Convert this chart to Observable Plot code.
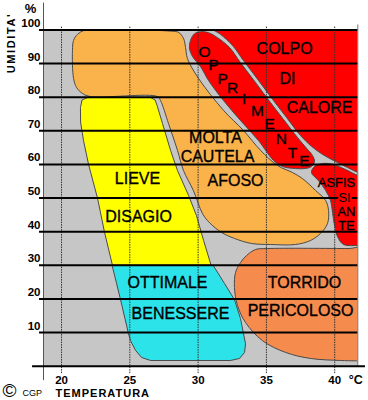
<!DOCTYPE html>
<html>
<head>
<meta charset="utf-8">
<script src="https://cdn.jsdelivr.net/npm/d3@7"></script>
<script src="https://cdn.jsdelivr.net/npm/@observablehq/plot@0.6"></script>
<style>
  body { margin: 0; background: #ffffff; }
  #chart svg { display: block; }
</style>
</head>
<body>
<div id="chart"></div>
<script>
// ---- tick values (temperature °C, relative humidity %) ----
const humidityTicks = [10, 20, 30, 40, 50, 60, 70, 80, 90, 100];
const temperatureTicks = [20, 25, 30, 35, 40];

// ---- zone outlines, [temperature °C, humidity %] ----
const zoneAfoso = [[21.17,98.7],[21.76,100],[26.0,100],[28.13,99.6],[28.57,99.3],[28.93,97.5],[29.08,94.8],[29.22,91.5],[30.03,85.6],[31.86,76.1],[33.32,70.1],[34.57,64.2],[35.81,59.7],[36.91,57.6],[37.64,55.8],[38.59,52.3],[39.33,49.3],[39.55,46.3],[39.47,42.4],[38.96,39.5],[38.23,37.4],[37.13,36.2],[35.3,36.2],[33.91,36.5],[32.66,38.0],[31.71,39.8],[30.83,42.7],[30.32,45.4],[29.66,52.2],[28.93,58.2],[28.49,64.2],[27.83,72.2],[27.25,79.0],[27.03,80.2],[22.12,80.2],[21.54,81.1],[21.1,82.9],[20.88,85.6],[20.8,93.9],[20.88,96.9]];
const zoneDisagio = [[21.39,77.0],[21.5,79.2],[21.9,79.9],[26.52,79.9],[26.85,79.2],[27.0,77.5],[27.39,72.2],[27.98,64.2],[28.49,58.2],[29.3,50.8],[29.88,44.8],[30.4,37.4],[30.95,30],[23.73,30],[23.15,39.8],[22.64,49.9],[21.98,60.0],[21.61,67.1],[21.4,72.5]];
const zoneBenessere = [[23.73,30],[31.1,30],[31.93,24.6],[32.66,19.8],[33.1,14.2],[33.32,9.7],[33.47,6.7],[33.4,4.1],[33.03,2.3],[32.37,1.7],[26.52,1.7],[25.86,2.6],[25.42,4.7],[25.05,7.6],[24.9,9.7],[24.32,19.8],[24.03,24.6]];
const zoneTorrido = [[42.2,35.0],[41.0,35.0],[35.1,35.0],[34.2,34.7],[33.54,32.9],[33.1,30.8],[32.74,27.9],[32.66,23.4],[32.88,18.1],[33.47,13.0],[34.71,7.6],[36.4,4.1],[38.23,2.3],[40.42,1.7],[41.5,1.6],[42.2,1.6]];
const zoneColpo = [[31.0,100.6],[42.2,100.6],[42.2,57.5],[41.74,57.6],[40.94,59.1],[39.91,61.2],[39.11,63.0],[38.3,65.4],[37.5,68.6],[36.47,74.0],[35.52,79.0],[34.42,85.0],[33.32,90.9],[32.52,95.4],[31.64,98.7]];
const zoneOppressione = [[29.44,96.9],[29.37,94.5],[29.59,92.1],[30.18,89.1],[30.76,85.0],[31.86,79.0],[33.1,73.1],[34.42,67.1],[35.52,61.2],[36.18,59.4],[37.13,58.8],[37.86,58.8],[38.3,59.4],[38.52,60.9],[38.37,62.7],[37.94,64.8],[37.28,68.0],[36.25,73.4],[35.3,78.4],[34.2,84.4],[33.1,90.3],[32.3,94.8],[31.42,97.7],[30.76,99.2],[30.18,99.5],[29.74,98.9]];
const zoneAsfissia = [[38.3,57.6],[38.52,59.4],[39.11,60.3],[39.91,60.0],[40.8,58.5],[41.74,56.7],[42.2,56.5],[42.2,35.8],[41.67,35.9],[40.64,36.2],[40.2,38.6],[39.99,41.8],[39.84,45.7],[39.69,49.3],[39.33,52.3],[38.81,55.2]];

// ---- zone labels, anchored at [temperature, humidity] ----
const zoneLabels = [
  {text: "COLPO", t: 36.33, h: 94.5},
  {text: "DI", t: 36.54, h: 85.6},
  {text: "CALORE", t: 38.89, h: 76.7},
  {text: "MOLTA", t: 31.27, h: 67.8},
  {text: "CAUTELA", t: 31.42, h: 62.2},
  {text: "AFOSO", t: 32.74, h: 55.2},
  {text: "LIEVE", t: 25.56, h: 55.8},
  {text: "DISAGIO", t: 25.64, h: 44.5},
  {text: "OTTIMALE", t: 27.76, h: 24.9},
  {text: "BENESSERE", t: 28.71, h: 15.7},
  {text: "TORRIDO", t: 37.79, h: 24.9},
  {text: "PERICOLOSO", t: 37.5, h: 16.6}
];
const asfissiaLabels = [
  {text: "ASFIS", t: 40.13, h: 54.4},
  {text: "AN", t: 40.86, h: 46.0},
  {text: "TE", t: 40.86, h: 41.8}
];
const haloLabels = [{text: "SI", t: 40.72, h: 50.2}];
const oppLetters = [
  {text: "O", t: 30.47, h: 93.3},
  {text: "P", t: 31.13, h: 89.7},
  {text: "P", t: 31.79, h: 85.3},
  {text: "R", t: 32.52, h: 82.6},
  {text: "I", t: 33.37, h: 79.6},
  {text: "M", t: 34.35, h: 75.9},
  {text: "E", t: 35.23, h: 72.1},
  {text: "N", t: 36.1, h: 67.6},
  {text: "T", t: 36.91, h: 63.3},
  {text: "E", t: 37.79, h: 61.0}
];

const GRAY = "#c6c6c6";
const OUT = "#4a4a4a";
const zone = (data, fill, curve) => Plot.line(data, {
  x: d => d[0], y: d => d[1], fill, stroke: OUT, strokeWidth: 1,
  curve, clip: true
});
const label = (data, size, extra = {}) => Plot.text(data, {
  x: "t", y: "h", text: "text", fontSize: size, fill: "#000",
  stroke: "#000", strokeWidth: 0.35, ...extra
});

const chart = Plot.plot({
  width: 368,
  height: 400,
  marginLeft: 43,
  marginRight: 10.7,
  marginTop: 29.5,
  marginBottom: 34.3,
  x: {domain: [18.68, 41.69], axis: null},
  y: {domain: [0, 100], axis: null},
  style: {fontFamily: "'Liberation Sans', Arial, sans-serif", background: "#ffffff", overflow: "visible"},
  marks: [
    Plot.frame({fill: GRAY, stroke: null}),
    zone(zoneAfoso, "#fab24b", "catmull-rom-closed"),
    zone(zoneDisagio, "#ffff00", "linear-closed"),
    zone(zoneBenessere, "#2de3ea", "linear-closed"),
    zone(zoneTorrido, "#f68b4e", "catmull-rom-closed"),
    zone(zoneColpo, "#ff0000", "catmull-rom-closed"),
    zone(zoneOppressione, "#ff0000", "catmull-rom-closed"),
    zone(zoneAsfissia, "#ff0000", "catmull-rom-closed"),
    // vertical dotted grid
    Plot.ruleX(temperatureTicks, {x: d => d, y1: -2.2, y2: 101, stroke: "#333", strokeWidth: 1, strokeDasharray: "1.5,1"}),
    // left axis & right edge
    Plot.ruleX([18.68], {y1: -4.3, y2: 108, stroke: "#555", strokeWidth: 1}),
    Plot.ruleX([41.69], {y1: 0, y2: 101.5, stroke: "#777", strokeWidth: 1}),
    // horizontal black lines
    Plot.ruleY(humidityTicks, {y: d => d, x1: 18.39, x2: 41.69, stroke: "#000", strokeWidth: 2}),
    Plot.ruleY([0], {x1: 17.88, x2: 42.25, stroke: "#000", strokeWidth: 2}),
    // zone labels
    label(zoneLabels, 16),
    label(oppLetters, 15.5),
    label(asfissiaLabels, 13),
    Plot.text(haloLabels, {x: "t", y: "h", text: "text", fontSize: 13, fill: "#000", stroke: "#ff0000", strokeWidth: 4}),
    // tick labels
    Plot.text(humidityTicks, {y: d => d, text: d => String(d), frameAnchor: "left", textAnchor: "end", lineAnchor: "bottom", dx: -3, dy: -3, fontSize: 11.5, fontWeight: "bold", fill: "#000"}),
    Plot.text(temperatureTicks, {x: d => d, text: d => String(d), frameAnchor: "bottom", lineAnchor: "bottom", dy: 17.5, fontSize: 11.5, fontWeight: "bold", fill: "#000"}),
    Plot.text(["°C"], {frameAnchor: "bottom-right", textAnchor: "end", lineAnchor: "bottom", dx: 5, dy: 17.5, fontSize: 12.5, fontWeight: "bold", fill: "#000"}),
    // axis titles
    Plot.text(["%"], {frameAnchor: "top-left", textAnchor: "middle", lineAnchor: "bottom", dx: -13, dy: -17.5, fontSize: 13, fontWeight: "bold", fill: "#000"}),
    Plot.text(["UMIDITA'"], {frameAnchor: "top-left", textAnchor: "middle", lineAnchor: "middle", rotate: -90, dx: -32, dy: 13, fontSize: 11, fontWeight: "bold", fill: "#000"}),
    Plot.text(["©"], {frameAnchor: "bottom-left", textAnchor: "start", lineAnchor: "bottom", dx: -41, dy: 31, fontSize: 19, fill: "#000"}),
    Plot.text(["CGP"], {frameAnchor: "bottom-left", textAnchor: "start", lineAnchor: "bottom", dx: -21, dy: 29.5, fontSize: 9, fill: "#000"}),
    Plot.text(["TEMPERATURA"], {frameAnchor: "bottom-left", textAnchor: "start", lineAnchor: "bottom", dx: 12, dy: 30.5, fontSize: 11, fontWeight: "bold", fill: "#000"})
  ]
});

d3.select(chart).selectAll("text").each(function () {
  const t = this.textContent;
  if (t === "TEMPERATURA") this.setAttribute("letter-spacing", "1");
  if (t === "UMIDITA'") this.setAttribute("letter-spacing", "1.6");
});

document.getElementById("chart").appendChild(chart);
</script>
</body>
</html>
